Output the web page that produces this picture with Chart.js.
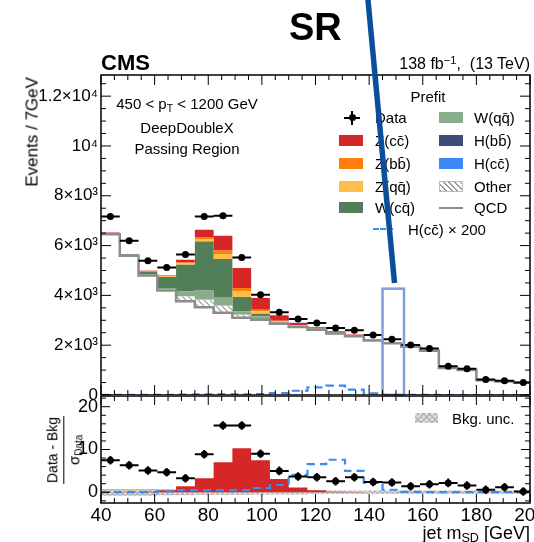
<!DOCTYPE html>
<html>
<head>
<meta charset="utf-8">
<script src="https://cdn.jsdelivr.net/npm/chart.js@4.4.0/dist/chart.umd.min.js"></script>
<style>
  body { margin: 0; }
  #wrap { position: relative; width: 534px; height: 542px; background: #fff; overflow: hidden;
          font-family: 'Liberation Sans', Arial, Helvetica, sans-serif; color: #000; }
  #wrap canvas { position: absolute; left: 0; }
  .t { position: absolute; white-space: nowrap; line-height: 1; }
  sub { font-size: 70%; vertical-align: -0.25em; line-height: 0; }
  sup { font-size: 70%; vertical-align: 0.45em; line-height: 0; }
  .patch { position: absolute; width: 24px; height: 11px; }
</style>
</head>
<body>
<div id="wrap">
  <canvas id="mainChart" width="534" height="412" style="top:0"></canvas>
  <canvas id="ratioChart" width="534" height="146" style="top:396px"></canvas>

  <div class="t" style="left:289px;top:8px;font-size:38px;font-weight:bold">SR</div>
  <div class="t" style="left:101px;top:52px;font-size:22px;font-weight:bold">CMS</div>
  <div class="t" style="right:4px;top:56px;font-size:16px">138 fb<sup>−1</sup>,&nbsp; (13 TeV)</div>

  <div class="t" style="left:32px;top:77px;font-size:17px;transform-origin:0 0;transform:rotate(-90deg) translate(-100%,-50%)">Events / 7GeV</div>

  <div class="t" style="left:187px;top:96px;font-size:15px;transform:translateX(-50%)">450 &lt; p<sub>T</sub> &lt; 1200 GeV</div>
  <div class="t" style="left:187px;top:120px;font-size:15px;transform:translateX(-50%)">DeepDoubleX</div>
  <div class="t" style="left:187px;top:140.5px;font-size:15px;transform:translateX(-50%)">Passing Region</div>

  <div class="t" style="left:428px;top:89px;font-size:15px;transform:translateX(-50%)">Prefit</div>
  <div id="legend"></div>

  <div class="t" style="left:65px;top:450px;transform:translate(-50%,-50%) rotate(-90deg);font-size:14px;text-align:center;line-height:1.1">
    <div style="border-bottom:1.2px solid #000;padding:0 1px 3px">Data - Bkg</div>
    <div style="padding-top:2px;font-size:15px">σ<span style="font-size:10px;vertical-align:-0.3em">Data</span></div>
  </div>

  <div class="patch" style="left:415px;top:413px;width:23px;height:10px;background:repeating-linear-gradient(45deg,#b5b5b5 0 1px,transparent 1px 4px),repeating-linear-gradient(-45deg,#b5b5b5 0 1px,transparent 1px 4px),#dcdcdc"></div>
  <div class="t" style="left:452px;top:410.5px;font-size:15px">Bkg. unc.</div>

  <div class="t" style="right:4px;top:524px;font-size:18px">jet m<sub>SD</sub> [GeV]</div>

  <svg width="534" height="542" style="position:absolute;left:0;top:0;pointer-events:none">
    <line x1="367.8" y1="-2" x2="394.5" y2="283" stroke="#0b4f9c" stroke-width="5.5"/>
  </svg>
</div>

<script>
// bin edges of the jet mass histogram (GeV)
const binEdges = [40, 47, 54, 61, 68, 75, 82, 89, 96, 103, 110, 117, 124, 131, 138, 145, 152, 159, 166, 173, 180, 187, 194, 201];

// main panel: observed data and prefit stack (events / bin)
const dataCounts = [7166, 6192, 5391, 5122, 5645, 7166, 7194, 5523, 4028, 3319, 3054, 2894, 2693, 2597, 2413, 2236, 2012, 1864, 1154, 1050, 621, 569, 505];
const dataErr    = [85, 79, 73, 72, 75, 85, 85, 74, 63, 58, 55, 54, 52, 51, 49, 47, 45, 43, 34, 32, 25, 24, 22];
const qcd   = [6460, 5590, 4800, 4200, 3760, 3520, 3300, 3100, 3026, 2866, 2733, 2625, 2465, 2357, 2190, 2080, 1935, 1780, 1080, 1000, 595, 540, 488];
const other = [20, 20, 30, 50, 200, 300, 287, 126, 28, 10, 11, 12, 17, 14, 14, 10, 8, 7, 5, 5, 4, 4, 3];
const wqq   = [10, 10, 20, 47, 200, 380, 349, 133, 104, 15, 10, 10, 15, 12, 12, 8, 7, 6, 4, 4, 3, 3, 2];
const wcq   = [10, 20, 110, 440, 1070, 1964, 1523, 577, 109, 20, 15, 10, 12, 10, 10, 6, 5, 5, 3, 3, 2, 2, 2];
const zqq   = [5, 5, 15, 25, 50, 97, 200, 224, 92, 40, 25, 15, 15, 12, 10, 6, 5, 4, 3, 3, 2, 2, 2];
const zbb   = [5, 4, 12, 15, 43, 80, 145, 137, 68, 35, 20, 10, 8, 5, 5, 3, 3, 3, 2, 2, 1, 1, 1];
const zcc   = [15, 10, 15, 25, 108, 292, 589, 801, 469, 212, 80, 35, 25, 15, 10, 5, 5, 4, 3, 3, 2, 2, 1];
const hbb   = [0, 0, 0, 0, 0, 0.2, 0.3, 0.5, 0.8, 1, 1.5, 2, 2, 1.5, 1, 0.5, 0.3, 0.2, 0, 0, 0, 0, 0];
const hcc   = [0, 0, 0, 0, 0, 0, 0.1, 0.1, 0.2, 0.4, 0.8, 1.5, 1.8, 1, 0.3, 0, 0, 0, 0, 0, 0, 0, 0];
const hcc200 = [5, 5, 5, 8, 20, 25, 25, 30, 40, 80, 170, 305, 373, 212, 64, 8, 3, 2, 1, 1, 0, 0, 0];

// ratio panel: (Data - Bkg) / sigma_Data
const ratioData   = [7.5, 6.3, 5.1, 4.7, 3.3, 8.9, 15.6, 15.6, 9.0, 5.0, 3.7, 3.5, 2.6, 3.5, 2.4, 2.3, 1.4, 1.9, 2.2, 1.6, 0.6, 1.2, 0.2];
const ratioErr    = [1, 1, 1, 1, 1, 1, 1, 1, 1, 1, 1, 1, 1, 1, 1, 1, 1, 1, 1, 1, 1, 1, 1];
const ratioZcc    = [0, 0.05, 0.15, 0.5, 1.4, 3.3, 7.0, 10.3, 7.5, 3.1, 1.1, 0.5, 0.15, 0.05, 0, 0, 0, 0, 0, 0, 0, 0, 0];
const ratioHcc200 = [0.03, 0.03, 0.03, 0.2, 0.5, 0.5, 0.5, 0.5, 1.0, 1.7, 4.1, 6.6, 7.6, 5.0, 2.2, 0.6, 0.1, 0.05, 0.03, 0.03, 0.03, 0.03, 0.03];
const bkgUnc      = [0.8, 0.8, 0.8, 0.7, 0.7, 0.6, 0.6, 0.6, 0.5, 0.5, 0.5, 0.4, 0.4, 0.4, 0.4, 0.4, 0.4, 0.4, 0.4, 0.4, 0.4, 0.4, 0.4];

// axes
const mainYTicks = [0, 2000, 4000, 6000, 8000, 10000, 12000];
const mainYTickLabels = ['0', '2×10³', '4×10³', '6×10³', '8×10³', '10⁴', '1.2×10⁴'];
const ratioYTicks = [0, 10, 20];
const xTicks = [40, 60, 80, 100, 120, 140, 160, 180, 200];
const highlightBin = [145, 153];

const colors = {
  zcc: '#d62728', zbb: '#ff7f0e', zqq: '#ffbf46', wcq: '#527f57', wqq: '#89ad8b',
  hbb: '#3e4d78', hcc: '#3b87f5', qcd: '#8c8c8c', dash: '#3a8cf2'
};

function hatch(bg, fg, size, cross) {
  const c = document.createElement('canvas');
  c.width = c.height = size;
  const g = c.getContext('2d');
  g.fillStyle = bg; g.fillRect(0, 0, size, size);
  g.strokeStyle = fg; g.lineWidth = 1.1;
  g.beginPath();
  for (let k = -1; k <= 1; k++) {
    g.moveTo(k * size, 0); g.lineTo(k * size + size, size);
    if (cross) { g.moveTo(k * size, size); g.lineTo(k * size + size, 0); }
  }
  g.stroke();
  return g.createPattern(c, 'repeat');
}

function steps(vals) {
  const pts = vals.map((v, i) => ({ x: binEdges[i], y: v }));
  pts.push({ x: binEdges[binEdges.length - 1], y: vals[vals.length - 1] });
  return pts;
}
function centers(vals) {
  return vals.map((v, i) => ({ x: (binEdges[i] + binEdges[i + 1]) / 2, y: v }));
}

// frame with inward ticks on all four sides
const frameTicks = {
  id: 'frameTicks',
  afterDraw(chart, args, o) {
    const { ctx, chartArea: a } = chart;
    const xs = chart.scales.x, ys = chart.scales.y;
    ctx.save();
    ctx.strokeStyle = '#000';
    ctx.lineWidth = 1;
    ctx.beginPath();
    for (let v = 40; v <= 200; v += 5) {
      const px = xs.getPixelForValue(v);
      const len = v % 20 === 0 ? o.major : o.minor;
      ctx.moveTo(px, a.bottom); ctx.lineTo(px, a.bottom - len);
      ctx.moveTo(px, a.top); ctx.lineTo(px, a.top + len);
    }
    for (let v = o.yFrom; v <= o.yTo; v += o.yMinor) {
      const py = ys.getPixelForValue(v);
      if (py < a.top - 0.5 || py > a.bottom + 0.5) continue;
      const len = Math.abs(v % o.yMajor) < 1e-6 ? o.major : o.minor;
      ctx.moveTo(a.left, py); ctx.lineTo(a.left + len, py);
      ctx.moveTo(a.right, py); ctx.lineTo(a.right - len, py);
    }
    ctx.stroke();
    ctx.lineWidth = 1.5;
    ctx.strokeRect(a.left, a.top, a.right - a.left, a.bottom - a.top);
    ctx.restore();
  }
};

// horizontal bin-width bars and vertical errors for data points
const errorBars = {
  id: 'errorBars',
  beforeDatasetDraw(chart, args) {
    const ds = chart.data.datasets[args.index];
    if (!ds.errors) return;
    const { ctx, chartArea: a } = chart;
    const xs = chart.scales.x, ys = chart.scales[args.meta.yAxisID];
    ctx.save();
    ctx.beginPath(); ctx.rect(a.left, a.top, a.right - a.left, a.bottom - a.top); ctx.clip();
    ctx.strokeStyle = '#000'; ctx.lineWidth = 2;
    ctx.beginPath();
    ds.data.forEach((p, i) => {
      const py = ys.getPixelForValue(p.y);
      ctx.moveTo(xs.getPixelForValue(binEdges[i]), py);
      ctx.lineTo(xs.getPixelForValue(binEdges[i + 1]), py);
      const px = xs.getPixelForValue(p.x);
      ctx.moveTo(px, ys.getPixelForValue(p.y - ds.errors[i]));
      ctx.lineTo(px, ys.getPixelForValue(p.y + ds.errors[i]));
    });
    ctx.stroke();
    ctx.restore();
  }
};

// box around the highlighted bin
const highlight = {
  id: 'highlight',
  afterDatasetsDraw(chart, args, o) {
    if (!o.bin) return;
    const { ctx } = chart;
    const xs = chart.scales.x, ys = chart.scales.y;
    const x0 = xs.getPixelForValue(o.bin[0]), x1 = xs.getPixelForValue(o.bin[1]);
    const y0 = ys.getPixelForValue(0), y1 = ys.getPixelForValue(o.top);
    ctx.save();
    ctx.strokeStyle = '#7f9fdb'; ctx.lineWidth = 2.5;
    ctx.strokeRect(x0, y1, x1 - x0, y0 - y1);
    ctx.restore();
  }
};

Chart.defaults.font.family = "'Liberation Sans', Arial, Helvetica, sans-serif";
Chart.defaults.color = '#000';

const otherHatch = hatch('#ffffff', '#9a9a9a', 6, false);
const uncHatch = hatch('#dcdcdc', '#b0b0b0', 5, true);

function stackSet(label, vals, color, fill) {
  return {
    label, data: steps(vals), yAxisID: 'y', stepped: true, pointRadius: 0,
    borderWidth: 0, borderColor: 'rgba(0,0,0,0)', backgroundColor: color, fill, clip: 0, order: 0
  };
}

const resetPad = s => { s.paddingLeft = 0; s.paddingRight = 0; s.paddingTop = 0; s.paddingBottom = 0; };

new Chart(document.getElementById('mainChart'), {
  type: 'line',
  data: {
    datasets: [
      { label: 'QCD', data: steps(qcd), yAxisID: 'y', stepped: true, pointRadius: 0,
        borderWidth: 2.5, borderColor: colors.qcd, fill: false, clip: 0, order: 0 },
      stackSet('Other', other, otherHatch, '-1'),
      stackSet('W(qq)', wqq, colors.wqq, '-1'),
      stackSet('W(cq)', wcq, colors.wcq, '-1'),
      stackSet('Z(qq)', zqq, colors.zqq, '-1'),
      stackSet('Z(bb)', zbb, colors.zbb, '-1'),
      stackSet('Z(cc)', zcc, colors.zcc, '-1'),
      stackSet('H(bb)', hbb, colors.hbb, '-1'),
      stackSet('H(cc)', hcc, colors.hcc, '-1'),
      { label: 'H(cc) x 200', data: steps(hcc200), yAxisID: 'yd', stepped: true, pointRadius: 0,
        borderWidth: 2.2, borderColor: colors.dash, borderDash: [8, 5], fill: false, clip: 0, order: -1 },
      { label: 'Data', data: centers(dataCounts), errors: dataErr, yAxisID: 'yd', showLine: false,
        pointRadius: 3.5, pointBackgroundColor: '#000', pointBorderWidth: 0, order: -2 }
    ]
  },
  options: {
    responsive: false, animation: false, events: [],
    layout: { padding: { top: 75, right: 4, bottom: 17, left: 0 }, autoPadding: false },
    plugins: {
      legend: { display: false }, tooltip: { enabled: false },
      frameTicks: { major: 10, minor: 5, yFrom: 0, yTo: 12850, yMinor: 500, yMajor: 2000 },
      highlight: { bin: highlightBin, top: 4270 }
    },
    scales: {
      x: { type: 'linear', min: 40, max: 200, display: false, afterFit: resetPad },
      y: {
        stacked: true, min: 0, max: 12850,
        grid: { display: false, drawTicks: false }, border: { display: false },
        afterBuildTicks: s => { s.ticks = mainYTicks.map(v => ({ value: v })); },
        ticks: { padding: 3, font: { size: 17 }, color: '#000',
                 callback: v => mainYTickLabels[mainYTicks.indexOf(v)] },
        afterFit: s => { s.width = 101; resetPad(s); }
      },
      yd: { min: 0, max: 12850, display: false }
    }
  },
  plugins: [frameTicks, errorBars, highlight]
});

new Chart(document.getElementById('ratioChart'), {
  type: 'line',
  data: {
    datasets: [
      { label: 'unc lo', data: steps(bkgUnc.map(u => -u)), stepped: true, pointRadius: 0,
        borderWidth: 0, fill: false, clip: 0, order: 4 },
      { label: 'Bkg. unc.', data: steps(bkgUnc), stepped: true, pointRadius: 0,
        borderWidth: 0, backgroundColor: uncHatch, fill: '-1', clip: 0, order: 3 },
      { label: 'Z(cc)', data: steps(ratioZcc), stepped: true, pointRadius: 0,
        borderWidth: 0, backgroundColor: colors.zcc, fill: { value: 0 }, clip: 0, order: 2 },
      { label: 'H(cc) x 200', data: steps(ratioHcc200), stepped: true, pointRadius: 0,
        borderWidth: 2.2, borderColor: colors.dash, borderDash: [8, 5], fill: false, clip: 0, order: 1 },
      { label: 'Data', data: centers(ratioData), errors: ratioErr, showLine: false,
        pointRadius: 3.5, pointBackgroundColor: '#000', pointBorderWidth: 0, order: 0 }
    ]
  },
  options: {
    responsive: false, animation: false, events: [],
    layout: { padding: { top: 0, right: 4, bottom: 0, left: 0 }, autoPadding: false },
    plugins: {
      legend: { display: false }, tooltip: { enabled: false },
      frameTicks: { major: 9, minor: 5, yFrom: -2, yTo: 22, yMinor: 2, yMajor: 10 }
    },
    scales: {
      x: {
        type: 'linear', min: 40, max: 200,
        grid: { display: false, drawTicks: false }, border: { display: false },
        afterBuildTicks: s => { s.ticks = xTicks.map(v => ({ value: v })); },
        ticks: { padding: 1, font: { size: 19 }, color: '#000', maxRotation: 0, autoSkip: false },
        afterFit: s => { s.height = 39; resetPad(s); }
      },
      y: {
        min: -2.5, max: 22.5,
        grid: { display: false, drawTicks: false }, border: { display: false },
        afterBuildTicks: s => { s.ticks = ratioYTicks.map(v => ({ value: v })); },
        ticks: { padding: 3, font: { size: 18 }, color: '#000' },
        afterFit: s => { s.width = 101; resetPad(s); }
      }
    }
  },
  plugins: [frameTicks, errorBars]
});

// legend (two columns + one extra row)
const legendRows = [117.7, 140, 163, 186, 207.5];
const legendCols = [
  { patchX: 339, textX: 375, items: [
    { label: 'Data', kind: 'data' },
    { label: 'Z(cc&#772;)', color: colors.zcc },
    { label: 'Z(bb&#772;)', color: colors.zbb },
    { label: 'Z(qq&#772;)', color: colors.zqq },
    { label: 'W(cq&#772;)', color: colors.wcq } ] },
  { patchX: 439, textX: 474, items: [
    { label: 'W(qq&#772;)', color: colors.wqq },
    { label: 'H(bb&#772;)', color: colors.hbb },
    { label: 'H(cc&#772;)', color: colors.hcc },
    { label: 'Other', kind: 'hatch' },
    { label: 'QCD', kind: 'line' } ] }
];
const leg = document.getElementById('legend');
let html = '';
legendCols.forEach(col => {
  col.items.forEach((it, r) => {
    const cy = legendRows[r];
    if (it.kind === 'data') {
      html += `<div style="position:absolute;left:${col.patchX + 5}px;top:${cy - 1}px;width:16px;height:2px;background:#000"></div>`;
      html += `<div style="position:absolute;left:${col.patchX + 12}px;top:${cy - 7}px;width:2px;height:14px;background:#000"></div>`;
      html += `<div style="position:absolute;left:${col.patchX + 9.5}px;top:${cy - 3.5}px;width:7px;height:7px;border-radius:50%;background:#000"></div>`;
    } else if (it.kind === 'hatch') {
      html += `<div class="patch" style="left:${col.patchX}px;top:${cy - 5.5}px;box-sizing:border-box;border:1px solid #bbb;background:repeating-linear-gradient(45deg,#999 0 1.2px,#fff 1.2px 4px)"></div>`;
    } else if (it.kind === 'line') {
      html += `<div style="position:absolute;left:${col.patchX}px;top:${cy - 1}px;width:24px;height:2px;background:${colors.qcd}"></div>`;
    } else {
      html += `<div class="patch" style="left:${col.patchX}px;top:${cy - 5.5}px;background:${it.color}"></div>`;
    }
    html += `<div class="t" style="left:${col.textX}px;top:${cy - 7.5}px;font-size:15px">${it.label}</div>`;
  });
});
html += `<div style="position:absolute;left:373px;top:228px;width:20px;height:0;border-top:2.2px dashed ${colors.dash}"></div>`;
html += `<div class="t" style="left:408px;top:221.5px;font-size:15px">H(cc&#772;) × 200</div>`;
leg.innerHTML = html;
</script>
</body>
</html>
